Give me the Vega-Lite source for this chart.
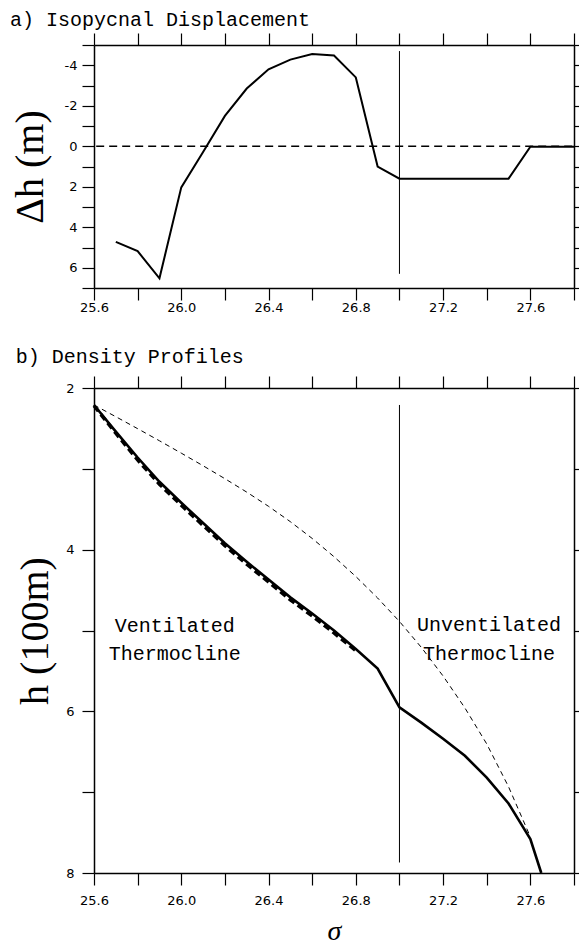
{
  "$schema": "https://vega.github.io/schema/vega-lite/v6.json",
  "padding": {"left": 10, "top": 10, "right": 0, "bottom": 0},
  "background": "white",
  "spacing": 33,
  "config": {
    "view": {"stroke": null},
    "axis": {"domainColor": "black", "domainWidth": 1.5, "tickColor": "black", "tickWidth": 1.2, "tickSize": 12, "labelFont": "DejaVu Sans", "labelFontSize": 13, "labelColor": "black", "grid": false, "titleColor": "black", "titleFont": "Liberation Serif", "titleFontWeight": "normal", "labelFlush": false, "labelOverlap": false},
    "title": {"font": "Liberation Mono", "fontSize": 20, "fontWeight": "normal", "anchor": "start", "color": "black", "baseline": "alphabetic"},
    "line": {"color": "black"},
    "rule": {"color": "black"},
    "text": {"color": "black"}
  },
  "datasets": {
    "disp": [
      {"sigma": 25.7, "dh": 4.72}, {"sigma": 25.8, "dh": 5.18}, {"sigma": 25.9, "dh": 6.52}, {"sigma": 26.0, "dh": 2.03},
      {"sigma": 26.1, "dh": 0.28}, {"sigma": 26.2, "dh": -1.5}, {"sigma": 26.3, "dh": -2.85}, {"sigma": 26.4, "dh": -3.8},
      {"sigma": 26.5, "dh": -4.28}, {"sigma": 26.6, "dh": -4.55}, {"sigma": 26.7, "dh": -4.48}, {"sigma": 26.8, "dh": -3.4},
      {"sigma": 26.9, "dh": 1.0}, {"sigma": 27.0, "dh": 1.6}, {"sigma": 27.1, "dh": 1.6}, {"sigma": 27.2, "dh": 1.6},
      {"sigma": 27.3, "dh": 1.6}, {"sigma": 27.4, "dh": 1.6}, {"sigma": 27.5, "dh": 1.6}, {"sigma": 27.6, "dh": 0.02},
      {"sigma": 27.7, "dh": 0.02}, {"sigma": 27.8, "dh": 0.02}
    ],
    "zero": [{"sigma": 25.61, "dh": 0}, {"sigma": 27.8, "dh": 0}],
    "vtop": [{"sigma": 27.0, "y1": -4.7, "y2": 6.3}],
    "model": [
      {"sigma": 25.6, "h": 2.21}, {"sigma": 25.7, "h": 2.54}, {"sigma": 25.8, "h": 2.86}, {"sigma": 25.9, "h": 3.16},
      {"sigma": 26.0, "h": 3.42}, {"sigma": 26.1, "h": 3.67}, {"sigma": 26.2, "h": 3.92}, {"sigma": 26.3, "h": 4.15},
      {"sigma": 26.4, "h": 4.37}, {"sigma": 26.5, "h": 4.59}, {"sigma": 26.6, "h": 4.79}, {"sigma": 26.7, "h": 5.0},
      {"sigma": 26.8, "h": 5.23}, {"sigma": 26.9, "h": 5.47}, {"sigma": 27.0, "h": 5.95}, {"sigma": 27.1, "h": 6.14},
      {"sigma": 27.2, "h": 6.34}, {"sigma": 27.3, "h": 6.55}, {"sigma": 27.4, "h": 6.82}, {"sigma": 27.5, "h": 7.14},
      {"sigma": 27.6, "h": 7.58}, {"sigma": 27.65, "h": 8.0}
    ],
    "vent": [
      {"sigma": 25.6, "h": 2.22}, {"sigma": 25.7, "h": 2.56}, {"sigma": 25.8, "h": 2.89}, {"sigma": 25.9, "h": 3.19},
      {"sigma": 26.0, "h": 3.45}, {"sigma": 26.1, "h": 3.7}, {"sigma": 26.2, "h": 3.95}, {"sigma": 26.3, "h": 4.18},
      {"sigma": 26.4, "h": 4.4}, {"sigma": 26.5, "h": 4.62}, {"sigma": 26.6, "h": 4.82}, {"sigma": 26.7, "h": 5.03},
      {"sigma": 26.8, "h": 5.25}
    ],
    "ref": [
      {"sigma": 25.6, "h": 2.21}, {"sigma": 25.7, "h": 2.355}, {"sigma": 25.8, "h": 2.503}, {"sigma": 25.9, "h": 2.653},
      {"sigma": 26.0, "h": 2.806}, {"sigma": 26.1, "h": 2.962}, {"sigma": 26.2, "h": 3.122}, {"sigma": 26.3, "h": 3.288},
      {"sigma": 26.4, "h": 3.464}, {"sigma": 26.5, "h": 3.654}, {"sigma": 26.6, "h": 3.861}, {"sigma": 26.7, "h": 4.087},
      {"sigma": 26.8, "h": 4.332}, {"sigma": 26.9, "h": 4.598}, {"sigma": 27.0, "h": 4.888}, {"sigma": 27.1, "h": 5.208},
      {"sigma": 27.2, "h": 5.563}, {"sigma": 27.3, "h": 5.958}, {"sigma": 27.4, "h": 6.403}, {"sigma": 27.5, "h": 6.933},
      {"sigma": 27.6, "h": 7.553}
    ],
    "vbot": [{"sigma": 27.0, "y1": 2.21, "y2": 7.87}],
    "labels": [
      {"sigma": 25.97, "h": 5.02, "label": "Ventilated"},
      {"sigma": 25.97, "h": 5.36, "label": "Thermocline"},
      {"sigma": 27.41, "h": 5.01, "label": "Unventilated"},
      {"sigma": 27.41, "h": 5.37, "label": "Thermocline"}
    ]
  },
  "vconcat": [
    {
      "width": 480,
      "height": 243,
      "title": {"text": "a) Isopycnal Displacement", "offset": 2},
      "resolve": {"axis": {"x": "independent", "y": "independent"}},
      "layer": [
        {
          "data": {"name": "disp"},
          "mark": {"type": "line", "strokeWidth": 2},
          "encoding": {
            "x": {"field": "sigma", "type": "quantitative", "scale": {"domain": [25.6, 27.8], "nice": false, "zero": false},
              "axis": {"orient": "bottom", "title": null, "values": [25.6, 25.8, 26.0, 26.2, 26.4, 26.6, 26.8, 27.0, 27.2, 27.4, 27.6, 27.8], "labelExpr": "round(datum.value*10)%4==0 ? format(datum.value,'.1f') : ''", "labelPadding": 1}},
            "y": {"field": "dh", "type": "quantitative", "scale": {"domain": [-5, 7], "reverse": true, "nice": false, "zero": false},
              "axis": {"orient": "left", "title": "Δh (m)", "titleFontSize": 40, "titlePadding": 14, "values": [-5, -4, -3, -2, -1, 0, 1, 2, 3, 4, 5, 6, 7], "labelExpr": "datum.value%2==0 ? ''+datum.value : ''", "labelPadding": 5}}
          }
        },
        {
          "data": {"name": "zero"},
          "mark": {"type": "line", "strokeWidth": 1.5, "strokeDash": [8, 5]},
          "encoding": {
            "x": {"field": "sigma", "type": "quantitative", "axis": {"orient": "top", "title": null, "labels": false, "values": [25.6, 25.8, 26.0, 26.2, 26.4, 26.6, 26.8, 27.0, 27.2, 27.4, 27.6, 27.8]}},
            "y": {"field": "dh", "type": "quantitative", "axis": {"orient": "right", "title": null, "labels": false, "tickSize": 6, "values": [-5, -4, -3, -2, -1, 0, 1, 2, 3, 4, 5, 6, 7]}}
          }
        },
        {
          "data": {"name": "vtop"},
          "mark": {"type": "rule", "strokeWidth": 1},
          "encoding": {
            "x": {"field": "sigma", "type": "quantitative", "axis": null},
            "y": {"field": "y1", "type": "quantitative", "axis": null},
            "y2": {"field": "y2"}
          }
        }
      ]
    },
    {
      "width": 480,
      "height": 485,
      "title": {"text": "b) Density Profiles", "offset": 8},
      "resolve": {"axis": {"x": "independent", "y": "independent"}},
      "layer": [
        {
          "data": {"name": "ref"},
          "mark": {"type": "line", "strokeWidth": 1, "strokeDash": [5, 4]},
          "encoding": {
            "x": {"field": "sigma", "type": "quantitative", "scale": {"domain": [25.6, 27.8], "nice": false, "zero": false},
              "axis": {"orient": "bottom", "title": "σ", "titleFontSize": 28, "titleFontStyle": "italic", "titlePadding": 10, "values": [25.6, 25.8, 26.0, 26.2, 26.4, 26.6, 26.8, 27.0, 27.2, 27.4, 27.6, 27.8], "labelExpr": "round(datum.value*10)%4==0 ? format(datum.value,'.1f') : ''", "labelPadding": 9}},
            "y": {"field": "h", "type": "quantitative", "scale": {"domain": [2, 8], "reverse": true, "nice": false, "zero": false},
              "axis": {"orient": "left", "title": "h (100m)", "titleFontSize": 40, "titlePadding": 10, "values": [2, 3, 4, 5, 6, 7, 8], "labelExpr": "datum.value%2==0 ? ''+datum.value : ''", "labelPadding": 8}}
          }
        },
        {
          "data": {"name": "vent"},
          "mark": {"type": "line", "strokeWidth": 3.5, "strokeDash": [7, 4]},
          "encoding": {
            "x": {"field": "sigma", "type": "quantitative", "axis": {"orient": "top", "title": null, "labels": false, "values": [25.6, 25.8, 26.0, 26.2, 26.4, 26.6, 26.8, 27.0, 27.2, 27.4, 27.6, 27.8]}},
            "y": {"field": "h", "type": "quantitative", "axis": {"orient": "right", "title": null, "labels": false, "tickSize": 6, "values": [2, 3, 4, 5, 6, 7, 8]}}
          }
        },
        {
          "data": {"name": "model"},
          "mark": {"type": "line", "strokeWidth": 2.6},
          "encoding": {
            "x": {"field": "sigma", "type": "quantitative", "axis": null},
            "y": {"field": "h", "type": "quantitative", "axis": null}
          }
        },
        {
          "data": {"name": "vbot"},
          "mark": {"type": "rule", "strokeWidth": 1},
          "encoding": {
            "x": {"field": "sigma", "type": "quantitative", "axis": null},
            "y": {"field": "y1", "type": "quantitative", "axis": null},
            "y2": {"field": "y2"}
          }
        },
        {
          "data": {"name": "labels"},
          "mark": {"type": "text", "font": "Liberation Mono", "fontSize": 20, "align": "center", "baseline": "alphabetic"},
          "encoding": {
            "x": {"field": "sigma", "type": "quantitative", "axis": null},
            "y": {"field": "h", "type": "quantitative", "axis": null},
            "text": {"field": "label"}
          }
        }
      ]
    }
  ]
}
